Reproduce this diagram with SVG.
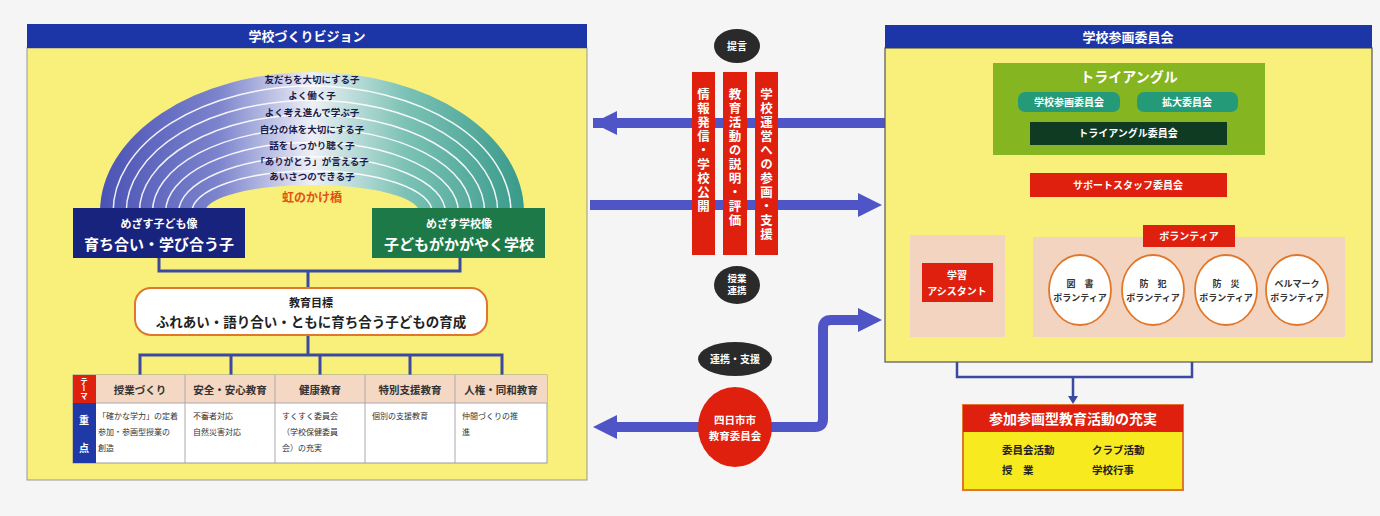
<svg xmlns="http://www.w3.org/2000/svg" width="1380" height="516" viewBox="0 0 1380 516">
<defs>
<linearGradient id="rb" x1="100" y1="0" x2="524" y2="0" gradientUnits="userSpaceOnUse">
<stop offset="0" stop-color="#4a52b5"/><stop offset="0.28" stop-color="#7c84cd"/><stop offset="0.5" stop-color="#eef0f6"/><stop offset="0.72" stop-color="#7cc2b6"/><stop offset="1" stop-color="#389a8a"/>
</linearGradient>
</defs>
<style>
text{font-family:"Noto Sans CJK JP","Noto Sans",sans-serif;font-weight:bold}
.hd{fill:#ffffff;font-size:13px;text-anchor:middle}
.rt{fill:#1c1c4a;font-size:9.5px;text-anchor:middle}
.w{fill:#ffffff;text-anchor:middle}
.k{fill:#222222;text-anchor:middle}
.ln{fill:none;stroke:#3b4aa0;stroke-width:3}
.tb{fill:#333333;font-size:8px;font-weight:normal}
.th{fill:#333333;font-size:10.5px;text-anchor:middle}
.vt{writing-mode:vertical-rl;fill:#ffffff;font-size:12.5px;letter-spacing:1.5px}
.arr{fill:#4f55c6}
.cir{fill:#ffffff;stroke:#e0772a;stroke-width:1.8}
.ct{fill:#333333;font-size:9px;text-anchor:middle}
</style>
<rect width="1380" height="516" fill="#f5f5f5"/>

<g id="left-panel">
<rect x="27" y="48" width="560" height="432" fill="#f8f07a" stroke="#9a9a9a" stroke-width="1"/>
<rect x="27" y="24" width="560" height="24" fill="#1c36a8"/>
<text class="hd" x="307" y="41">学校づくりビジョン</text>
</g>

<g id="rainbow">
<path d="M100,212 A212,140 0 0 1 524,212 Z" fill="url(#rb)"/>
<g fill="none" stroke="#ffffff" stroke-width="1.5" opacity="0.9">
<path d="M113.1,212 A198.9,125.9 0 0 1 510.9,212"/>
<path d="M126.25,212 A185.75,111.75 0 0 1 497.75,212"/>
<path d="M139.4,212 A172.6,97.6 0 0 1 484.6,212"/>
<path d="M152.5,212 A159.5,83.5 0 0 1 471.5,212"/>
<path d="M165.6,212 A146.4,69.4 0 0 1 458.4,212"/>
<path d="M178.75,212 A133.25,55.25 0 0 1 445.25,212"/>
<path d="M191.9,212 A120.1,41.1 0 0 1 432.1,212"/>
</g>
<path d="M205,212 A107,27 0 0 1 419,212 Z" fill="#f8f07a"/>
<text class="rt" x="312" y="83">友だちを大切にする子</text>
<text class="rt" x="312" y="99">よく働く子</text>
<text class="rt" x="312" y="116">よく考え進んで学ぶ子</text>
<text class="rt" x="312" y="133">自分の体を大切にする子</text>
<text class="rt" x="312" y="149">話をしっかり聴く子</text>
<text class="rt" x="312" y="165">「ありがとう」が言える子</text>
<text class="rt" x="312" y="180">あいさつのできる子</text>
<text x="312" y="202" fill="#e2501a" font-size="12" text-anchor="middle">虹のかけ橋</text>
</g>

<g id="connectors">
<path class="ln" d="M159,258 V271 H460 V258 M308,271 V288"/>
<path class="ln" d="M308,335 V355 M140,375 V355 H502 V375 M231,355 V375 M320,355 V375 M410,355 V375"/>
<path d="M1128,155 V173 M1128,197 V212 M957,235 V212 H1192 V225 M957,337 V377 H1192 V337 M1073,377 V398" fill="none" stroke="#3b4aa0" stroke-width="2.5"/>
<polygon points="1068,396 1078,396 1073,404" fill="#3b4aa0"/>
<rect x="593" y="118" width="292" height="10" class="arr"/>
<polygon class="arr" points="593,123 617,111 617,135"/>
<rect x="590" y="200" width="272" height="10" class="arr"/>
<polygon class="arr" points="882,205 858,193 858,217"/>
<rect x="612" y="422" width="100" height="10" class="arr"/>
<polygon class="arr" points="593,427 617,415 617,439"/>
<path d="M760,427 H815 Q823,427 823,419 V328 Q823,320 831,320 H862" fill="none" stroke="#4f55c6" stroke-width="10"/>
<polygon class="arr" points="882,320 858,308 858,332"/>
</g>

<g id="kodomo-zo">
<rect x="73" y="208" width="172" height="50" fill="#17237d"/>
<text class="w" x="159" y="228" font-size="11">めざす子ども像</text>
<text class="w" x="159" y="250" font-size="15">育ち合い・学び合う子</text>
</g>
<g id="gakko-zo">
<rect x="372" y="208" width="173" height="50" fill="#1d7a48"/>
<text class="w" x="459" y="228" font-size="11">めざす学校像</text>
<text class="w" x="459" y="250" font-size="15">子どもがかがやく学校</text>
</g>
<g id="kyoiku-mokuhyo">
<rect x="135" y="288" width="352" height="47" rx="16" fill="#ffffff" stroke="#e0772a" stroke-width="2"/>
<text class="k" x="311" y="307" font-size="11">教育目標</text>
<text class="k" x="311" y="327" font-size="13.5">ふれあい・語り合い・ともに育ち合う子どもの育成</text>
</g>

<g id="table">
<rect x="73" y="375" width="474" height="88" fill="#ffffff" stroke="#9a9a9a" stroke-width="1"/>
<rect x="96" y="375" width="451" height="28" fill="#f4d8c4"/>
<rect x="73" y="375" width="23" height="28" fill="#e0200f"/>
<rect x="73" y="403" width="23" height="60" fill="#1f3aa6"/>
<g stroke="#aaaaaa" stroke-width="1">
<line x1="96" y1="403" x2="547" y2="403"/>
<line x1="185" y1="375" x2="185" y2="463"/>
<line x1="275" y1="375" x2="275" y2="463"/>
<line x1="365" y1="375" x2="365" y2="463"/>
<line x1="455" y1="375" x2="455" y2="463"/>
</g>
<text x="84" y="377" fill="#ffffff" font-size="7.5" style="writing-mode:vertical-rl">テーマ</text>
<text fill="#ffffff" font-size="10" text-anchor="middle"><tspan x="84" y="424">重</tspan><tspan x="84" y="452">点</tspan></text>
<text class="th" x="140" y="394">授業づくり</text>
<text class="th" x="230" y="394">安全・安心教育</text>
<text class="th" x="320" y="394">健康教育</text>
<text class="th" x="410" y="394">特別支援教育</text>
<text class="th" x="501" y="394">人権・同和教育</text>
<text class="tb" x="98" y="419">「確かな学力」の定着</text>
<text class="tb" x="98" y="435">参加・参画型授業の</text>
<text class="tb" x="98" y="451">創造</text>
<text class="tb" x="193" y="419">不審者対応</text>
<text class="tb" x="193" y="435">自然災害対応</text>
<text class="tb" x="282" y="419">すくすく委員会</text>
<text class="tb" x="282" y="435">（学校保健委員</text>
<text class="tb" x="282" y="451">会）の充実</text>
<text class="tb" x="372" y="419">個別の支援教育</text>
<text class="tb" x="462" y="419">仲間づくりの推</text>
<text class="tb" x="462" y="435">進</text>
</g>

<g id="teigen">
<ellipse cx="737" cy="46" rx="23" ry="17" fill="#2a2a2a"/>
<text class="w" x="737" y="50" font-size="10">提言</text>
</g>
<g id="bars">
<rect x="692" y="72" width="23" height="183" fill="#e0200f"/>
<rect x="723" y="72" width="24" height="183" fill="#e0200f"/>
<rect x="755" y="72" width="23" height="183" fill="#e0200f"/>
<text class="vt" x="703.5" y="88">情報発信・学校公開</text>
<text class="vt" x="735" y="88">教育活動の説明・評価</text>
<text class="vt" x="766.5" y="88">学校運営への参画・支援</text>
</g>
<g id="jugyo-renkei">
<ellipse cx="737" cy="285" rx="23" ry="19" fill="#2a2a2a"/>
<text class="w" x="737" y="282" font-size="9.5">授業</text>
<text class="w" x="737" y="294" font-size="9.5">連携</text>
</g>
<g id="renkei-shien">
<ellipse cx="735" cy="359" rx="37" ry="17" fill="#2a2a2a"/>
<text class="w" x="735" y="363" font-size="10">連携・支援</text>
</g>
<g id="kyoiku-iinkai">
<ellipse cx="735" cy="427" rx="37" ry="40" fill="#e0200f"/>
<text class="w" x="735" y="424" font-size="10.5">四日市市</text>
<text class="w" x="735" y="440" font-size="10.5">教育委員会</text>
</g>

<g id="right-panel">
<rect x="885" y="48" width="487" height="314" fill="#f8f07a" stroke="#555555" stroke-width="1.2"/>
<rect x="885" y="25" width="487" height="23" fill="#1c36a8"/>
<text class="hd" x="1128" y="42">学校参画委員会</text>
</g>
<g id="triangle">
<rect x="993" y="63" width="272" height="92" fill="#86b522"/>
<text class="w" x="1129" y="82" font-size="14">トライアングル</text>
</g>
<g id="sankaku-iinkai">
<rect x="1018" y="92" width="102" height="20" rx="7" fill="#249a78"/>
<text class="w" x="1069" y="106" font-size="10">学校参画委員会</text>
</g>
<g id="kakudai-iinkai">
<rect x="1137" y="92" width="101" height="20" rx="7" fill="#249a78"/>
<text class="w" x="1187" y="106" font-size="10">拡大委員会</text>
</g>
<g id="triangle-iinkai">
<rect x="1030" y="122" width="197" height="23" fill="#0e3b22"/>
<text class="w" x="1128" y="137" font-size="10">トライアングル委員会</text>
</g>
<g id="support-staff">
<rect x="1030" y="173" width="197" height="24" fill="#e0200f"/>
<text class="w" x="1128" y="189" font-size="10">サポートスタッフ委員会</text>
</g>
<g id="gakushu-assistant">
<rect x="910" y="235" width="95" height="102" fill="#f2d4c0"/>
<rect x="922" y="263" width="71" height="39" fill="#e0200f"/>
<text class="w" x="957" y="279" font-size="10">学習</text>
<text class="w" x="957" y="295" font-size="10">アシスタント</text>
</g>
<g id="volunteer">
<rect x="1033" y="237" width="312" height="100" fill="#f2d4c0"/>
<rect x="1143" y="225" width="92" height="22" fill="#e0200f"/>
<text class="w" x="1189" y="240" font-size="10">ボランティア</text>
</g>
<g id="tosho">
<ellipse class="cir" cx="1080" cy="290" rx="31" ry="35"/>
<text class="ct" x="1080" y="287" font-size="10.5">図　書</text>
<text class="ct" x="1080" y="301">ボランティア</text>
</g>
<g id="bohan">
<ellipse class="cir" cx="1153" cy="290" rx="31" ry="35"/>
<text class="ct" x="1153" y="287" font-size="10.5">防　犯</text>
<text class="ct" x="1153" y="301">ボランティア</text>
</g>
<g id="bosai">
<ellipse class="cir" cx="1226" cy="290" rx="31" ry="35"/>
<text class="ct" x="1226" y="287" font-size="10.5">防　災</text>
<text class="ct" x="1226" y="301">ボランティア</text>
</g>
<g id="bellmark">
<ellipse class="cir" cx="1297" cy="290" rx="31" ry="35"/>
<text class="ct" x="1297" y="287">ベルマーク</text>
<text class="ct" x="1297" y="301">ボランティア</text>
</g>

<g id="jujitsu">
<rect x="963" y="405" width="220" height="85" fill="#f7ea1e" stroke="#e0772a" stroke-width="2"/>
<rect x="963" y="405" width="220" height="27" fill="#e0200f"/>
<text class="w" x="1073" y="424" font-size="14">参加参画型教育活動の充実</text>
<text x="1002" y="454" fill="#222222" font-size="10.5">委員会活動</text>
<text x="1092" y="454" fill="#222222" font-size="10.5">クラブ活動</text>
<text x="1002" y="474" fill="#222222" font-size="10.5">授　業</text>
<text x="1092" y="474" fill="#222222" font-size="10.5">学校行事</text>
</g>
</svg>
